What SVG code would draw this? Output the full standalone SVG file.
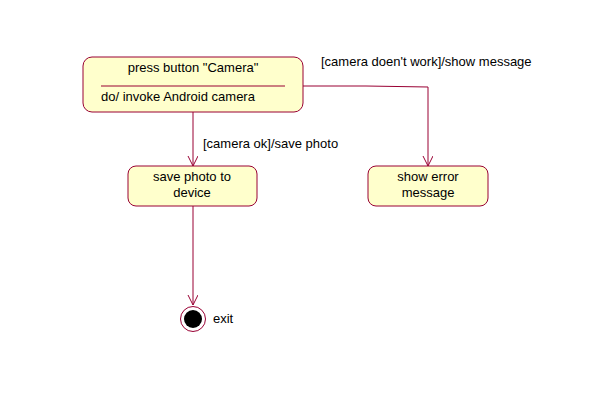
<svg xmlns="http://www.w3.org/2000/svg" width="608" height="419" viewBox="0 0 608 419">
<style>
.st{fill:#FFFFCC;stroke:#990033;stroke-width:1}
.ln{fill:none;stroke:#990033;stroke-width:1}
text{font-family:"Liberation Sans",Arial,sans-serif;font-size:13px;fill:#000}
</style>
<defs>
<marker id="arr" markerWidth="12" markerHeight="12" refX="10" refY="5" orient="auto" markerUnits="userSpaceOnUse">
<path d="M0,0 L10,5 L0,10" fill="none" stroke="#990033" stroke-width="1"/>
</marker>
</defs>
<rect width="608" height="419" fill="#fff"/>
<g id="connectors">
<line class="ln" x1="193" y1="112" x2="193" y2="166" marker-end="url(#arr)"/>
<polyline class="ln" points="303,86 366,86 428,87 428,166" marker-end="url(#arr)"/>
<line class="ln" x1="193" y1="206" x2="193" y2="305" marker-end="url(#arr)"/>
<text x="321" y="66">[camera doen't work]/show message</text>
<text x="203" y="148">[camera ok]/save photo</text>
</g>
<g id="press">
<rect class="st" x="83" y="57" width="220" height="55" rx="9"/>
<line class="ln" x1="101" y1="86" x2="285" y2="86"/>
<text x="193" y="72" text-anchor="middle">press button "Camera"</text>
<text x="101" y="101">do/ invoke Android camera</text>
</g>
<g id="save">
<rect class="st" x="128" y="166" width="129" height="40" rx="8"/>
<text x="192" y="181" text-anchor="middle">save photo to</text>
<text x="192" y="197" text-anchor="middle">device</text>
</g>
<g id="error">
<rect class="st" x="368" y="166" width="120" height="40" rx="8"/>
<text x="428" y="181" text-anchor="middle">show error</text>
<text x="428" y="197" text-anchor="middle">message</text>
</g>
<g id="exit">
<circle cx="193" cy="319" r="12.5" fill="#fff" stroke="#990033" stroke-width="1"/>
<circle cx="193" cy="319" r="9" fill="#000"/>
<text x="213" y="323">exit</text>
</g>
</svg>
